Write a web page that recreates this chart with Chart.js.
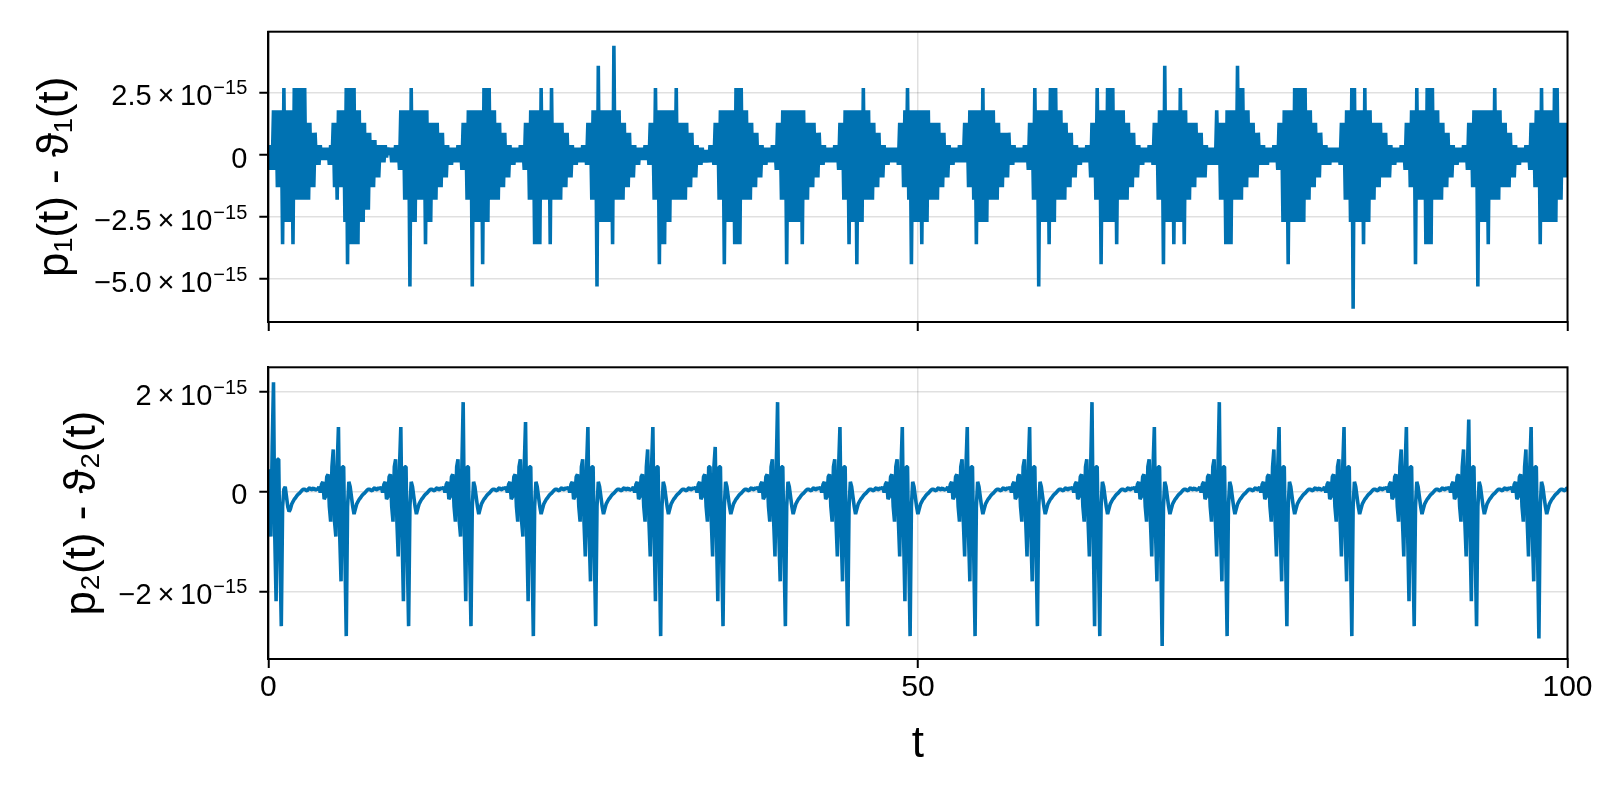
<!DOCTYPE html>
<html>
<head>
<meta charset="utf-8">
<script src="https://cdn.jsdelivr.net/npm/chart.js@4.4.1/dist/chart.umd.min.js"></script>
<style>
  html, body { margin: 0; padding: 0; background: #ffffff; }
  #wrap { position: relative; width: 1600px; height: 800px; background: #ffffff; }
  canvas { position: absolute; left: 0; }
</style>
</head>
<body>
<div id="wrap">
  <canvas id="c1" width="1600" height="340" style="top:0px;width:1600px;height:340px"></canvas>
  <canvas id="c2" width="1600" height="460" style="top:340px;width:1600px;height:460px"></canvas>
</div>
<script>
// ---------------- data ----------------
// time samples (step 0.1), shared by both panels
const tValues = [
  0,0.1,0.2,0.3,0.4,0.5,0.6,0.7,0.8,0.9,1,1.1,1.2,1.3,1.4,1.5,1.6,1.7,1.8,1.9,2,2.1,2.2,2.3,2.4,2.5,2.6,2.7,2.8,2.9,3,3.1,3.2,3.3,3.4,3.5,3.6,3.7,3.8,3.9,4,4.1,4.2,4.3,4.4,4.5,4.6,4.7,4.8,4.9,
  5,5.1,5.2,5.3,5.4,5.5,5.6,5.7,5.8,5.9,6,6.1,6.2,6.3,6.4,6.5,6.6,6.7,6.8,6.9,7,7.1,7.2,7.3,7.4,7.5,7.6,7.7,7.8,7.9,8,8.1,8.2,8.3,8.4,8.5,8.6,8.7,8.8,8.9,9,9.1,9.2,9.3,9.4,9.5,9.6,9.7,9.8,9.9,
  10,10.1,10.2,10.3,10.4,10.5,10.6,10.7,10.8,10.9,11,11.1,11.2,11.3,11.4,11.5,11.6,11.7,11.8,11.9,12,12.1,12.2,12.3,12.4,12.5,12.6,12.7,12.8,12.9,13,13.1,13.2,13.3,13.4,13.5,13.6,13.7,13.8,13.9,14,14.1,14.2,14.3,14.4,14.5,14.6,14.7,14.8,14.9,
  15,15.1,15.2,15.3,15.4,15.5,15.6,15.7,15.8,15.9,16,16.1,16.2,16.3,16.4,16.5,16.6,16.7,16.8,16.9,17,17.1,17.2,17.3,17.4,17.5,17.6,17.7,17.8,17.9,18,18.1,18.2,18.3,18.4,18.5,18.6,18.7,18.8,18.9,19,19.1,19.2,19.3,19.4,19.5,19.6,19.7,19.8,19.9,
  20,20.1,20.2,20.3,20.4,20.5,20.6,20.7,20.8,20.9,21,21.1,21.2,21.3,21.4,21.5,21.6,21.7,21.8,21.9,22,22.1,22.2,22.3,22.4,22.5,22.6,22.7,22.8,22.9,23,23.1,23.2,23.3,23.4,23.5,23.6,23.7,23.8,23.9,24,24.1,24.2,24.3,24.4,24.5,24.6,24.7,24.8,24.9,
  25,25.1,25.2,25.3,25.4,25.5,25.6,25.7,25.8,25.9,26,26.1,26.2,26.3,26.4,26.5,26.6,26.7,26.8,26.9,27,27.1,27.2,27.3,27.4,27.5,27.6,27.7,27.8,27.9,28,28.1,28.2,28.3,28.4,28.5,28.6,28.7,28.8,28.9,29,29.1,29.2,29.3,29.4,29.5,29.6,29.7,29.8,29.9,
  30,30.1,30.2,30.3,30.4,30.5,30.6,30.7,30.8,30.9,31,31.1,31.2,31.3,31.4,31.5,31.6,31.7,31.8,31.9,32,32.1,32.2,32.3,32.4,32.5,32.6,32.7,32.8,32.9,33,33.1,33.2,33.3,33.4,33.5,33.6,33.7,33.8,33.9,34,34.1,34.2,34.3,34.4,34.5,34.6,34.7,34.8,34.9,
  35,35.1,35.2,35.3,35.4,35.5,35.6,35.7,35.8,35.9,36,36.1,36.2,36.3,36.4,36.5,36.6,36.7,36.8,36.9,37,37.1,37.2,37.3,37.4,37.5,37.6,37.7,37.8,37.9,38,38.1,38.2,38.3,38.4,38.5,38.6,38.7,38.8,38.9,39,39.1,39.2,39.3,39.4,39.5,39.6,39.7,39.8,39.9,
  40,40.1,40.2,40.3,40.4,40.5,40.6,40.7,40.8,40.9,41,41.1,41.2,41.3,41.4,41.5,41.6,41.7,41.8,41.9,42,42.1,42.2,42.3,42.4,42.5,42.6,42.7,42.8,42.9,43,43.1,43.2,43.3,43.4,43.5,43.6,43.7,43.8,43.9,44,44.1,44.2,44.3,44.4,44.5,44.6,44.7,44.8,44.9,
  45,45.1,45.2,45.3,45.4,45.5,45.6,45.7,45.8,45.9,46,46.1,46.2,46.3,46.4,46.5,46.6,46.7,46.8,46.9,47,47.1,47.2,47.3,47.4,47.5,47.6,47.7,47.8,47.9,48,48.1,48.2,48.3,48.4,48.5,48.6,48.7,48.8,48.9,49,49.1,49.2,49.3,49.4,49.5,49.6,49.7,49.8,49.9,
  50,50.1,50.2,50.3,50.4,50.5,50.6,50.7,50.8,50.9,51,51.1,51.2,51.3,51.4,51.5,51.6,51.7,51.8,51.9,52,52.1,52.2,52.3,52.4,52.5,52.6,52.7,52.8,52.9,53,53.1,53.2,53.3,53.4,53.5,53.6,53.7,53.8,53.9,54,54.1,54.2,54.3,54.4,54.5,54.6,54.7,54.8,54.9,
  55,55.1,55.2,55.3,55.4,55.5,55.6,55.7,55.8,55.9,56,56.1,56.2,56.3,56.4,56.5,56.6,56.7,56.8,56.9,57,57.1,57.2,57.3,57.4,57.5,57.6,57.7,57.8,57.9,58,58.1,58.2,58.3,58.4,58.5,58.6,58.7,58.8,58.9,59,59.1,59.2,59.3,59.4,59.5,59.6,59.7,59.8,59.9,
  60,60.1,60.2,60.3,60.4,60.5,60.6,60.7,60.8,60.9,61,61.1,61.2,61.3,61.4,61.5,61.6,61.7,61.8,61.9,62,62.1,62.2,62.3,62.4,62.5,62.6,62.7,62.8,62.9,63,63.1,63.2,63.3,63.4,63.5,63.6,63.7,63.8,63.9,64,64.1,64.2,64.3,64.4,64.5,64.6,64.7,64.8,64.9,
  65,65.1,65.2,65.3,65.4,65.5,65.6,65.7,65.8,65.9,66,66.1,66.2,66.3,66.4,66.5,66.6,66.7,66.8,66.9,67,67.1,67.2,67.3,67.4,67.5,67.6,67.7,67.8,67.9,68,68.1,68.2,68.3,68.4,68.5,68.6,68.7,68.8,68.9,69,69.1,69.2,69.3,69.4,69.5,69.6,69.7,69.8,69.9,
  70,70.1,70.2,70.3,70.4,70.5,70.6,70.7,70.8,70.9,71,71.1,71.2,71.3,71.4,71.5,71.6,71.7,71.8,71.9,72,72.1,72.2,72.3,72.4,72.5,72.6,72.7,72.8,72.9,73,73.1,73.2,73.3,73.4,73.5,73.6,73.7,73.8,73.9,74,74.1,74.2,74.3,74.4,74.5,74.6,74.7,74.8,74.9,
  75,75.1,75.2,75.3,75.4,75.5,75.6,75.7,75.8,75.9,76,76.1,76.2,76.3,76.4,76.5,76.6,76.7,76.8,76.9,77,77.1,77.2,77.3,77.4,77.5,77.6,77.7,77.8,77.9,78,78.1,78.2,78.3,78.4,78.5,78.6,78.7,78.8,78.9,79,79.1,79.2,79.3,79.4,79.5,79.6,79.7,79.8,79.9,
  80,80.1,80.2,80.3,80.4,80.5,80.6,80.7,80.8,80.9,81,81.1,81.2,81.3,81.4,81.5,81.6,81.7,81.8,81.9,82,82.1,82.2,82.3,82.4,82.5,82.6,82.7,82.8,82.9,83,83.1,83.2,83.3,83.4,83.5,83.6,83.7,83.8,83.9,84,84.1,84.2,84.3,84.4,84.5,84.6,84.7,84.8,84.9,
  85,85.1,85.2,85.3,85.4,85.5,85.6,85.7,85.8,85.9,86,86.1,86.2,86.3,86.4,86.5,86.6,86.7,86.8,86.9,87,87.1,87.2,87.3,87.4,87.5,87.6,87.7,87.8,87.9,88,88.1,88.2,88.3,88.4,88.5,88.6,88.7,88.8,88.9,89,89.1,89.2,89.3,89.4,89.5,89.6,89.7,89.8,89.9,
  90,90.1,90.2,90.3,90.4,90.5,90.6,90.7,90.8,90.9,91,91.1,91.2,91.3,91.4,91.5,91.6,91.7,91.8,91.9,92,92.1,92.2,92.3,92.4,92.5,92.6,92.7,92.8,92.9,93,93.1,93.2,93.3,93.4,93.5,93.6,93.7,93.8,93.9,94,94.1,94.2,94.3,94.4,94.5,94.6,94.7,94.8,94.9,
  95,95.1,95.2,95.3,95.4,95.5,95.6,95.7,95.8,95.9,96,96.1,96.2,96.3,96.4,96.5,96.6,96.7,96.8,96.9,97,97.1,97.2,97.3,97.4,97.5,97.6,97.7,97.8,97.9,98,98.1,98.2,98.3,98.4,98.5,98.6,98.7,98.8,98.9,99,99.1,99.2,99.3,99.4,99.5,99.6,99.7,99.8,99.9,
  100
];

// p1(t) - theta1(t)
const p1Diff = [
  0.4e-15,-0.6e-15,0.4e-15,-0.6e-15,1.8e-15,-0.6e-15,1.8e-15,-1.3e-15,1.8e-15,-1.3e-15,1.8e-15,-3.6e-15,2.7e-15,-2.7e-15,1.8e-15,-2.7e-15,1.8e-15,-2.7e-15,1.8e-15,-3.6e-15,2.7e-15,-1.8e-15,2.7e-15,-1.8e-15,2.7e-15,-1.8e-15,2.7e-15,-1.8e-15,2.7e-15,-1.8e-15,1.3e-15,-1.8e-15,1.3e-15,-1.3e-15,0.9e-15,-1.3e-15,0.9e-15,-0.4e-15,0.4e-15,-0.4e-15,0.4e-15,-0.2e-15,0.3e-15,-0.2e-15,0.3e-15,-0.2e-15,0.3e-15,-0.4e-15,0.4e-15,-0.4e-15,
  1.3e-15,-1.3e-15,1.3e-15,-1.8e-15,1.8e-15,-1.3e-15,1.8e-15,-1.3e-15,1.8e-15,-2.7e-15,2.7e-15,-4.4e-15,2.7e-15,-3.6e-15,2.7e-15,-3.6e-15,2.7e-15,-3.6e-15,1.8e-15,-3.6e-15,1.8e-15,-2.7e-15,1.3e-15,-2.7e-15,1.3e-15,-2.2e-15,0.9e-15,-2.2e-15,0.9e-15,-1.3e-15,0.6e-15,-1.3e-15,0.6e-15,-0.9e-15,0.4e-15,-0.9e-15,0.4e-15,-0.3e-15,0.4e-15,-0.3e-15,0.4e-15,-0.1e-15,0.3e-15,0,0.3e-15,-0.3e-15,0.3e-15,-0.3e-15,0.4e-15,-0.3e-15,
  0.4e-15,-0.6e-15,1.8e-15,-0.6e-15,1.8e-15,-1.8e-15,1.8e-15,-1.8e-15,1.8e-15,-5.3e-15,2.7e-15,-2.7e-15,1.8e-15,-2.7e-15,1.8e-15,-1.8e-15,1.8e-15,-1.8e-15,1.8e-15,-1.8e-15,1.8e-15,-3.6e-15,1.8e-15,-2.7e-15,1.3e-15,-2.7e-15,1.3e-15,-1.8e-15,1.3e-15,-1.8e-15,1.3e-15,-1.3e-15,0.9e-15,-1.3e-15,0.9e-15,-0.9e-15,0.4e-15,-0.9e-15,0.4e-15,-0.4e-15,0.3e-15,-0.4e-15,0.3e-15,-0.3e-15,0.3e-15,-0.3e-15,0.4e-15,-0.3e-15,0.4e-15,-0.6e-15,
  1.3e-15,-0.6e-15,1.3e-15,-1.8e-15,1.8e-15,-1.8e-15,1.8e-15,-5.3e-15,1.8e-15,-2.7e-15,1.8e-15,-2.7e-15,1.8e-15,-2.7e-15,1.8e-15,-4.4e-15,2.7e-15,-2.7e-15,2.7e-15,-2.7e-15,2.7e-15,-1.8e-15,1.8e-15,-1.8e-15,1.8e-15,-1.8e-15,1.3e-15,-1.8e-15,1.3e-15,-1.3e-15,0.9e-15,-1.3e-15,0.9e-15,-0.9e-15,0.4e-15,-0.9e-15,0.4e-15,-0.4e-15,0.3e-15,-0.4e-15,0.3e-15,-0.3e-15,0.3e-15,-0.3e-15,0.4e-15,-0.3e-15,0.4e-15,-0.6e-15,1.3e-15,-0.6e-15,
  1.3e-15,-1.8e-15,1.8e-15,-1.8e-15,1.8e-15,-3.6e-15,1.8e-15,-3.6e-15,1.8e-15,-3.6e-15,2.7e-15,-1.8e-15,1.8e-15,-1.8e-15,1.8e-15,-1.8e-15,1.8e-15,-3.6e-15,2.7e-15,-1.8e-15,1.3e-15,-1.8e-15,1.3e-15,-1.8e-15,1.3e-15,-1.8e-15,1.3e-15,-1.3e-15,0.9e-15,-1.3e-15,0.9e-15,-0.9e-15,0.4e-15,-0.9e-15,0.4e-15,-0.4e-15,0.3e-15,-0.4e-15,0.3e-15,-0.3e-15,0.3e-15,-0.3e-15,0.4e-15,-0.3e-15,0.4e-15,-0.4e-15,1.3e-15,-0.4e-15,1.3e-15,-1.8e-15,
  1.8e-15,-1.8e-15,1.8e-15,-5.3e-15,3.6e-15,-2.7e-15,1.8e-15,-2.7e-15,1.8e-15,-2.7e-15,1.8e-15,-2.7e-15,1.8e-15,-2.7e-15,1.8e-15,-3.6e-15,4.4e-15,-1.8e-15,1.8e-15,-1.8e-15,1.8e-15,-1.8e-15,1.3e-15,-1.8e-15,1.3e-15,-1.3e-15,0.9e-15,-1.3e-15,0.9e-15,-0.9e-15,0.4e-15,-0.9e-15,0.4e-15,-0.4e-15,0.3e-15,-0.4e-15,0.3e-15,-0.2e-15,0.3e-15,-0.2e-15,0.4e-15,-0.2e-15,0.4e-15,-0.4e-15,1.3e-15,-0.4e-15,1.3e-15,-1.8e-15,2.7e-15,-1.8e-15,
  1.8e-15,-4.4e-15,1.8e-15,-3.6e-15,1.8e-15,-3.6e-15,1.8e-15,-2.7e-15,1.8e-15,-2.7e-15,1.8e-15,-1.8e-15,1.8e-15,-1.8e-15,2.7e-15,-1.8e-15,1.3e-15,-1.8e-15,1.3e-15,-1.8e-15,1.3e-15,-1.8e-15,1.3e-15,-1.3e-15,0.9e-15,-1.3e-15,0.9e-15,-0.9e-15,0.4e-15,-0.9e-15,0.4e-15,-0.4e-15,0.3e-15,-0.4e-15,0.3e-15,-0.3e-15,0.2e-15,-0.3e-15,0.2e-15,-0.3e-15,0.4e-15,-0.3e-15,0.4e-15,-0.4e-15,1.3e-15,-0.4e-15,1.3e-15,-1.8e-15,1.8e-15,-1.8e-15,
  1.8e-15,-4.4e-15,1.8e-15,-2.7e-15,1.8e-15,-2.7e-15,1.8e-15,-2.7e-15,1.8e-15,-3.6e-15,2.7e-15,-3.6e-15,2.7e-15,-3.6e-15,2.7e-15,-1.8e-15,1.8e-15,-1.8e-15,1.8e-15,-1.8e-15,1.3e-15,-1.8e-15,1.3e-15,-1.3e-15,0.9e-15,-1.3e-15,0.9e-15,-0.9e-15,0.4e-15,-0.9e-15,0.4e-15,-0.4e-15,0.3e-15,-0.4e-15,0.3e-15,-0.3e-15,0.3e-15,-0.3e-15,0.4e-15,-0.3e-15,0.4e-15,-0.6e-15,1.3e-15,-0.6e-15,1.3e-15,-1.8e-15,1.8e-15,-1.8e-15,1.8e-15,-4.4e-15,
  1.8e-15,-2.7e-15,1.8e-15,-2.7e-15,1.8e-15,-2.7e-15,1.8e-15,-2.7e-15,1.8e-15,-2.7e-15,1.8e-15,-3.6e-15,1.8e-15,-1.8e-15,1.3e-15,-1.8e-15,1.3e-15,-1.3e-15,1.3e-15,-1.3e-15,1.3e-15,-0.9e-15,0.9e-15,-0.9e-15,0.9e-15,-0.4e-15,0.4e-15,-0.4e-15,0.4e-15,-0.3e-15,0.3e-15,-0.3e-15,0.3e-15,-0.3e-15,0.3e-15,-0.3e-15,0.4e-15,-0.3e-15,0.4e-15,-0.6e-15,1.3e-15,-0.6e-15,1.3e-15,-1.8e-15,1.8e-15,-1.8e-15,1.8e-15,-3.6e-15,1.8e-15,-2.7e-15,
  1.8e-15,-2.7e-15,1.8e-15,-4.4e-15,1.8e-15,-2.7e-15,1.8e-15,-2.7e-15,2.7e-15,-1.8e-15,1.8e-15,-1.8e-15,1.8e-15,-1.8e-15,1.3e-15,-1.8e-15,1.3e-15,-1.3e-15,0.9e-15,-1.3e-15,0.9e-15,-0.9e-15,0.4e-15,-0.9e-15,0.4e-15,-0.4e-15,0.3e-15,-0.4e-15,0.3e-15,-0.3e-15,0.3e-15,-0.3e-15,0.3e-15,-0.3e-15,0.3e-15,-0.4e-15,1.3e-15,-0.4e-15,1.3e-15,-1.3e-15,1.8e-15,-1.3e-15,2.7e-15,-1.8e-15,1.8e-15,-4.4e-15,1.8e-15,-2.7e-15,1.8e-15,-2.7e-15,
  1.8e-15,-2.7e-15,1.8e-15,-3.6e-15,1.8e-15,-2.7e-15,1.8e-15,-2.7e-15,1.8e-15,-1.8e-15,1.3e-15,-1.8e-15,1.3e-15,-1.8e-15,1.3e-15,-1.8e-15,1.3e-15,-1.3e-15,0.9e-15,-1.3e-15,0.9e-15,-0.9e-15,0.4e-15,-0.9e-15,0.4e-15,-0.4e-15,0.3e-15,-0.4e-15,0.3e-15,-0.3e-15,0.3e-15,-0.3e-15,0.4e-15,-0.3e-15,0.4e-15,-0.3e-15,1.3e-15,-0.3e-15,1.3e-15,-1.3e-15,1.8e-15,-1.3e-15,1.8e-15,-1.8e-15,1.8e-15,-3.6e-15,1.8e-15,-2.7e-15,1.8e-15,-2.7e-15,
  2.7e-15,-2.7e-15,1.8e-15,-2.7e-15,1.8e-15,-1.8e-15,1.8e-15,-1.8e-15,1.8e-15,-1.8e-15,1.3e-15,-1.8e-15,1.3e-15,-1.3e-15,0.9e-15,-1.3e-15,0.9e-15,-0.9e-15,0.9e-15,-0.9e-15,0.9e-15,-0.4e-15,0.4e-15,-0.4e-15,0.4e-15,-0.3e-15,0.3e-15,-0.3e-15,0.3e-15,-0.3e-15,0.3e-15,-0.3e-15,0.4e-15,-0.3e-15,0.4e-15,-0.6e-15,1.3e-15,-0.6e-15,1.3e-15,-1.8e-15,2.7e-15,-1.8e-15,1.8e-15,-5.3e-15,1.8e-15,-2.7e-15,1.8e-15,-2.7e-15,1.8e-15,-2.7e-15,
  1.8e-15,-3.6e-15,2.7e-15,-2.7e-15,2.7e-15,-2.7e-15,2.7e-15,-1.8e-15,1.8e-15,-1.8e-15,1.8e-15,-1.8e-15,1.3e-15,-1.8e-15,1.3e-15,-1.3e-15,0.9e-15,-1.3e-15,0.9e-15,-0.9e-15,0.4e-15,-0.9e-15,0.4e-15,-0.4e-15,0.3e-15,-0.4e-15,0.3e-15,-0.3e-15,0.3e-15,-0.3e-15,0.4e-15,-0.3e-15,0.4e-15,-0.9e-15,1.3e-15,-0.9e-15,1.3e-15,-1.8e-15,2.7e-15,-1.8e-15,1.8e-15,-4.4e-15,1.8e-15,-2.7e-15,1.8e-15,-2.7e-15,2.7e-15,-2.7e-15,2.7e-15,-2.7e-15,
  2.7e-15,-2.7e-15,1.8e-15,-3.6e-15,1.8e-15,-1.8e-15,1.8e-15,-1.8e-15,1.8e-15,-1.8e-15,1.3e-15,-1.8e-15,1.3e-15,-1.3e-15,0.9e-15,-1.3e-15,0.9e-15,-0.9e-15,0.4e-15,-0.9e-15,0.4e-15,-0.4e-15,0.3e-15,-0.4e-15,0.3e-15,-0.3e-15,0.3e-15,-0.3e-15,0.4e-15,-0.3e-15,0.4e-15,-0.4e-15,1.3e-15,-0.4e-15,1.3e-15,-1.8e-15,1.8e-15,-1.8e-15,1.8e-15,-4.4e-15,3.6e-15,-2.7e-15,1.8e-15,-2.7e-15,1.8e-15,-2.7e-15,1.8e-15,-3.6e-15,1.8e-15,-2.7e-15,
  1.8e-15,-2.7e-15,2.7e-15,-2.7e-15,1.8e-15,-3.6e-15,1.8e-15,-1.8e-15,1.3e-15,-1.8e-15,1.3e-15,-1.3e-15,1.3e-15,-1.3e-15,1.3e-15,-0.9e-15,0.9e-15,-0.9e-15,0.9e-15,-0.9e-15,0.4e-15,-0.9e-15,0.4e-15,-0.4e-15,0.3e-15,-0.4e-15,0.3e-15,-0.4e-15,0.3e-15,-0.4e-15,1.8e-15,-0.4e-15,1.3e-15,-1.8e-15,1.3e-15,-1.8e-15,1.3e-15,-3.6e-15,1.8e-15,-3.6e-15,1.8e-15,-3.6e-15,1.8e-15,-1.8e-15,1.8e-15,-1.8e-15,3.6e-15,-1.8e-15,2.7e-15,-1.8e-15,
  2.7e-15,-1.3e-15,1.8e-15,-1.3e-15,1.8e-15,-0.9e-15,1.3e-15,-0.9e-15,1.3e-15,-0.9e-15,0.9e-15,-0.9e-15,0.9e-15,-0.4e-15,0.4e-15,-0.4e-15,0.4e-15,-0.4e-15,0.3e-15,-0.4e-15,0.3e-15,-0.3e-15,0.3e-15,-0.3e-15,0.4e-15,-0.3e-15,0.4e-15,-0.6e-15,1.3e-15,-0.6e-15,1.3e-15,-2.7e-15,1.8e-15,-2.7e-15,1.8e-15,-4.4e-15,1.8e-15,-2.7e-15,1.8e-15,-2.7e-15,2.7e-15,-2.7e-15,2.7e-15,-2.7e-15,2.7e-15,-2.7e-15,2.7e-15,-2.7e-15,2.7e-15,-1.8e-15,
  1.8e-15,-1.8e-15,1.8e-15,-1.3e-15,1.3e-15,-1.3e-15,1.3e-15,-0.9e-15,0.9e-15,-0.9e-15,0.9e-15,-0.4e-15,0.4e-15,-0.4e-15,0.4e-15,-0.4e-15,0.3e-15,-0.4e-15,0.3e-15,-0.3e-15,0.3e-15,-0.3e-15,0.3e-15,-0.3e-15,0.3e-15,-0.4e-15,1.3e-15,-0.4e-15,1.3e-15,-1.8e-15,1.8e-15,-1.8e-15,1.8e-15,-2.7e-15,2.7e-15,-6.2e-15,2.7e-15,-2.7e-15,1.8e-15,-2.7e-15,1.8e-15,-2.7e-15,1.8e-15,-3.6e-15,2.7e-15,-2.7e-15,1.8e-15,-2.7e-15,1.8e-15,-1.8e-15,
  1.3e-15,-1.8e-15,1.3e-15,-1.3e-15,1.3e-15,-1.3e-15,1.3e-15,-0.9e-15,0.9e-15,-0.9e-15,0.9e-15,-0.9e-15,0.4e-15,-0.9e-15,0.4e-15,-0.4e-15,0.3e-15,-0.4e-15,0.3e-15,-0.3e-15,0.3e-15,-0.3e-15,0.4e-15,-0.3e-15,0.4e-15,-0.6e-15,1.3e-15,-0.6e-15,1.3e-15,-1.3e-15,1.8e-15,-1.3e-15,1.8e-15,-4.4e-15,2.7e-15,-1.8e-15,1.8e-15,-1.8e-15,1.8e-15,-1.8e-15,1.8e-15,-3.6e-15,2.7e-15,-3.6e-15,2.7e-15,-3.6e-15,2.7e-15,-1.8e-15,1.8e-15,-1.8e-15,
  1.8e-15,-1.8e-15,1.3e-15,-1.8e-15,1.3e-15,-1.3e-15,0.9e-15,-1.3e-15,0.9e-15,-0.9e-15,0.4e-15,-0.9e-15,0.4e-15,-0.4e-15,0.3e-15,-0.4e-15,0.3e-15,-0.3e-15,0.3e-15,-0.3e-15,0.4e-15,-0.3e-15,0.4e-15,-0.6e-15,1.3e-15,-0.6e-15,1.3e-15,-1.3e-15,1.8e-15,-1.3e-15,1.8e-15,-5.3e-15,1.8e-15,-2.7e-15,1.8e-15,-2.7e-15,1.8e-15,-2.7e-15,1.8e-15,-3.6e-15,1.8e-15,-1.8e-15,1.8e-15,-1.8e-15,2.7e-15,-1.8e-15,1.8e-15,-1.8e-15,1.8e-15,-1.3e-15,
  1.3e-15,-1.3e-15,1.3e-15,-1.3e-15,0.9e-15,-1.3e-15,0.9e-15,-0.9e-15,0.4e-15,-0.9e-15,0.4e-15,-0.4e-15,0.3e-15,-0.4e-15,0.3e-15,-0.3e-15,0.3e-15,-0.3e-15,0.4e-15,-0.3e-15,0.4e-15,-0.6e-15,1.3e-15,-0.6e-15,1.3e-15,-1.3e-15,1.8e-15,-1.3e-15,1.8e-15,-3.6e-15,2.7e-15,-2.7e-15,1.8e-15,-2.7e-15,1.8e-15,-2.7e-15,1.8e-15,-2.7e-15,1.8e-15,-2.7e-15,2.7e-15,-2.7e-15,2.7e-15,-1.8e-15,1.3e-15,-1.8e-15,1.3e-15,-0.9e-15,1.3e-15,-0.9e-15,
  1.3e-15
];

// p2(t) - theta2(t), one line per oscillation cycle
const p2Diff = [
  0.45e-15,-0.5e-15,-0.9e-15,0.9e-15,2.2e-15,-0.9e-15,-2.2e-15,0.65e-15,0.65e-15,-1.3e-15,-2.7e-15,-0.3e-15,0.05e-15,0.1e-15,-0.1e-15,-0.3e-15,-0.4e-15,-0.35e-15,-0.25e-15,-0.2e-15,-0.15e-15,-0.12e-15,-0.08e-15,-0.05e-15,-0.03e-15,0,0.03e-15,0.05e-15,0.05e-15,0.03e-15,0.02e-15,0.06e-15,0.08e-15,0.04e-15,0.05e-15,0.08e-15,0.03e-15,0.05e-15,
  0.05e-15,0.1e-15,-0.02e-15,0.15e-15,0.2e-15,-0.15e-15,-0.1e-15,0.3e-15,0.35e-15,-0.3e-15,-0.6e-15,0.5e-15,0.85e-15,-0.6e-15,-0.9e-15,0.5e-15,1.3e-15,-0.9e-15,-1.8e-15,0.5e-15,0.5e-15,-1.3e-15,-2.9e-15,-0.3e-15,0.2e-15,0.1e-15,-0.1e-15,-0.3e-15,-0.45e-15,-0.35e-15,-0.25e-15,-0.2e-15,-0.15e-15,-0.12e-15,-0.08e-15,-0.05e-15,-0.03e-15,0,0.03e-15,0.05e-15,0.05e-15,0.03e-15,0.02e-15,0.06e-15,0.08e-15,0.04e-15,0.05e-15,0.08e-15,
  0.05e-15,0.1e-15,-0.02e-15,0.15e-15,0.2e-15,-0.15e-15,-0.1e-15,0.3e-15,0.35e-15,-0.3e-15,-0.6e-15,0.5e-15,0.65e-15,-0.6e-15,-1.3e-15,0.5e-15,1.3e-15,-0.9e-15,-2.2e-15,0.5e-15,0.5e-15,-1.3e-15,-2.7e-15,-0.3e-15,0.2e-15,0.1e-15,-0.1e-15,-0.3e-15,-0.45e-15,-0.35e-15,-0.25e-15,-0.2e-15,-0.15e-15,-0.12e-15,-0.08e-15,-0.05e-15,-0.03e-15,0,0.03e-15,0.05e-15,0.05e-15,0.03e-15,0.02e-15,0.06e-15,0.08e-15,0.04e-15,0.05e-15,0.08e-15,
  0.05e-15,0.1e-15,-0.02e-15,0.15e-15,0.2e-15,-0.15e-15,-0.1e-15,0.3e-15,0.35e-15,-0.3e-15,-0.6e-15,0.5e-15,0.65e-15,-0.6e-15,-0.9e-15,0.5e-15,1.8e-15,-0.9e-15,-2.2e-15,0.5e-15,0.5e-15,-1.3e-15,-2.7e-15,-0.3e-15,0.2e-15,0.1e-15,-0.1e-15,-0.3e-15,-0.45e-15,-0.35e-15,-0.25e-15,-0.2e-15,-0.15e-15,-0.12e-15,-0.08e-15,-0.05e-15,-0.03e-15,0,0.03e-15,0.05e-15,0.05e-15,0.03e-15,0.02e-15,0.06e-15,0.08e-15,0.04e-15,0.05e-15,0.08e-15,
  0.05e-15,0.1e-15,-0.02e-15,0.15e-15,0.2e-15,-0.15e-15,-0.1e-15,0.3e-15,0.35e-15,-0.3e-15,-0.6e-15,0.5e-15,0.65e-15,-0.6e-15,-0.9e-15,0.5e-15,1.4e-15,-0.9e-15,-2.2e-15,0.5e-15,0.5e-15,-1.3e-15,-2.9e-15,-0.3e-15,0.2e-15,0.1e-15,-0.1e-15,-0.3e-15,-0.45e-15,-0.35e-15,-0.25e-15,-0.2e-15,-0.15e-15,-0.12e-15,-0.08e-15,-0.05e-15,-0.03e-15,0,0.03e-15,0.05e-15,0.05e-15,0.03e-15,0.02e-15,0.06e-15,0.08e-15,0.04e-15,0.05e-15,0.08e-15,
  0.05e-15,0.1e-15,-0.02e-15,0.15e-15,0.2e-15,-0.15e-15,-0.1e-15,0.3e-15,0.35e-15,-0.3e-15,-0.6e-15,0.5e-15,0.65e-15,-0.6e-15,-1.3e-15,0.5e-15,1.3e-15,-0.9e-15,-1.8e-15,0.5e-15,0.5e-15,-1.3e-15,-2.7e-15,-0.3e-15,0.2e-15,0.1e-15,-0.1e-15,-0.3e-15,-0.45e-15,-0.35e-15,-0.25e-15,-0.2e-15,-0.15e-15,-0.12e-15,-0.08e-15,-0.05e-15,-0.03e-15,0,0.03e-15,0.05e-15,0.05e-15,0.03e-15,0.02e-15,0.06e-15,0.08e-15,0.04e-15,0.05e-15,0.08e-15,0.03e-15,0.05e-15,
  0.05e-15,0.1e-15,-0.02e-15,0.15e-15,0.2e-15,-0.15e-15,-0.1e-15,0.3e-15,0.35e-15,-0.3e-15,-0.6e-15,0.5e-15,0.85e-15,-0.6e-15,-1.3e-15,0.5e-15,1.3e-15,-0.9e-15,-2.2e-15,0.5e-15,0.5e-15,-1.3e-15,-2.9e-15,-0.3e-15,0.2e-15,0.1e-15,-0.1e-15,-0.3e-15,-0.45e-15,-0.35e-15,-0.25e-15,-0.2e-15,-0.15e-15,-0.12e-15,-0.08e-15,-0.05e-15,-0.03e-15,0,0.03e-15,0.05e-15,0.05e-15,0.03e-15,0.02e-15,0.06e-15,0.08e-15,0.04e-15,0.05e-15,0.08e-15,
  0.05e-15,0.1e-15,-0.02e-15,0.15e-15,0.2e-15,-0.15e-15,-0.1e-15,0.3e-15,0.35e-15,-0.3e-15,-0.6e-15,0.5e-15,0.5e-15,-0.6e-15,-1.3e-15,0.5e-15,0.9e-15,-0.9e-15,-2.2e-15,0.5e-15,0.5e-15,-1.3e-15,-2.7e-15,-0.3e-15,0.2e-15,0.1e-15,-0.1e-15,-0.3e-15,-0.45e-15,-0.35e-15,-0.25e-15,-0.2e-15,-0.15e-15,-0.12e-15,-0.08e-15,-0.05e-15,-0.03e-15,0,0.03e-15,0.05e-15,0.05e-15,0.03e-15,0.02e-15,0.06e-15,0.08e-15,0.04e-15,0.05e-15,0.08e-15,
  0.05e-15,0.1e-15,-0.02e-15,0.15e-15,0.2e-15,-0.15e-15,-0.1e-15,0.3e-15,0.35e-15,-0.3e-15,-0.6e-15,0.5e-15,0.65e-15,-0.6e-15,-1.3e-15,0.5e-15,1.8e-15,-0.9e-15,-1.8e-15,0.5e-15,0.5e-15,-1.3e-15,-2.7e-15,-0.3e-15,0.2e-15,0.1e-15,-0.1e-15,-0.3e-15,-0.45e-15,-0.35e-15,-0.25e-15,-0.2e-15,-0.15e-15,-0.12e-15,-0.08e-15,-0.05e-15,-0.03e-15,0,0.03e-15,0.05e-15,0.05e-15,0.03e-15,0.02e-15,0.06e-15,0.08e-15,0.04e-15,0.05e-15,0.08e-15,
  0.05e-15,0.1e-15,-0.02e-15,0.15e-15,0.2e-15,-0.15e-15,-0.1e-15,0.3e-15,0.35e-15,-0.3e-15,-0.6e-15,0.5e-15,0.65e-15,-0.6e-15,-1.3e-15,0.5e-15,1.3e-15,-0.9e-15,-1.8e-15,0.5e-15,0.5e-15,-1.3e-15,-2.7e-15,-0.3e-15,0.2e-15,0.1e-15,-0.1e-15,-0.3e-15,-0.45e-15,-0.35e-15,-0.25e-15,-0.2e-15,-0.15e-15,-0.12e-15,-0.08e-15,-0.05e-15,-0.03e-15,0,0.03e-15,0.05e-15,0.05e-15,0.03e-15,0.02e-15,0.06e-15,0.08e-15,0.04e-15,0.05e-15,0.08e-15,
  0.05e-15,0.1e-15,-0.02e-15,0.15e-15,0.2e-15,-0.15e-15,-0.1e-15,0.3e-15,0.35e-15,-0.3e-15,-0.6e-15,0.5e-15,0.65e-15,-0.6e-15,-1.3e-15,0.5e-15,1.3e-15,-0.9e-15,-2.2e-15,0.5e-15,0.5e-15,-1.3e-15,-2.9e-15,-0.3e-15,0.2e-15,0.1e-15,-0.1e-15,-0.3e-15,-0.45e-15,-0.35e-15,-0.25e-15,-0.2e-15,-0.15e-15,-0.12e-15,-0.08e-15,-0.05e-15,-0.03e-15,0,0.03e-15,0.05e-15,0.05e-15,0.03e-15,0.02e-15,0.06e-15,0.08e-15,0.04e-15,0.05e-15,0.08e-15,0.03e-15,0.05e-15,
  0.05e-15,0.1e-15,-0.02e-15,0.15e-15,0.2e-15,-0.15e-15,-0.1e-15,0.3e-15,0.35e-15,-0.3e-15,-0.6e-15,0.5e-15,0.65e-15,-0.6e-15,-1.3e-15,0.5e-15,1.3e-15,-0.9e-15,-1.8e-15,0.5e-15,0.5e-15,-1.3e-15,-2.9e-15,-0.3e-15,0.2e-15,0.1e-15,-0.1e-15,-0.3e-15,-0.45e-15,-0.35e-15,-0.25e-15,-0.2e-15,-0.15e-15,-0.12e-15,-0.08e-15,-0.05e-15,-0.03e-15,0,0.03e-15,0.05e-15,0.05e-15,0.03e-15,0.02e-15,0.06e-15,0.08e-15,0.04e-15,0.05e-15,0.08e-15,
  0.05e-15,0.1e-15,-0.02e-15,0.15e-15,0.2e-15,-0.15e-15,-0.1e-15,0.3e-15,0.35e-15,-0.3e-15,-0.6e-15,0.5e-15,0.65e-15,-0.6e-15,-1.3e-15,0.5e-15,1.3e-15,-0.9e-15,-1.8e-15,0.5e-15,0.5e-15,-1.3e-15,-2.7e-15,-0.3e-15,0.2e-15,0.1e-15,-0.1e-15,-0.3e-15,-0.45e-15,-0.35e-15,-0.25e-15,-0.2e-15,-0.15e-15,-0.12e-15,-0.08e-15,-0.05e-15,-0.03e-15,0,0.03e-15,0.05e-15,0.05e-15,0.03e-15,0.02e-15,0.06e-15,0.08e-15,0.04e-15,0.05e-15,0.08e-15,
  0.05e-15,0.1e-15,-0.02e-15,0.15e-15,0.2e-15,-0.15e-15,-0.1e-15,0.3e-15,0.35e-15,-0.3e-15,-0.6e-15,0.5e-15,0.65e-15,-0.6e-15,-1.3e-15,0.5e-15,1.8e-15,-0.9e-15,-2.7e-15,0.5e-15,0.5e-15,-1.3e-15,-2.9e-15,-0.3e-15,0.2e-15,0.1e-15,-0.1e-15,-0.3e-15,-0.45e-15,-0.35e-15,-0.25e-15,-0.2e-15,-0.15e-15,-0.12e-15,-0.08e-15,-0.05e-15,-0.03e-15,0,0.03e-15,0.05e-15,0.05e-15,0.03e-15,0.02e-15,0.06e-15,0.08e-15,0.04e-15,0.05e-15,0.08e-15,
  0.05e-15,0.1e-15,-0.02e-15,0.15e-15,0.2e-15,-0.15e-15,-0.1e-15,0.3e-15,0.35e-15,-0.3e-15,-0.6e-15,0.5e-15,0.65e-15,-0.6e-15,-1.3e-15,0.5e-15,1.3e-15,-0.9e-15,-1.8e-15,0.5e-15,0.5e-15,-1.3e-15,-3.1e-15,-0.3e-15,0.2e-15,0.1e-15,-0.1e-15,-0.3e-15,-0.45e-15,-0.35e-15,-0.25e-15,-0.2e-15,-0.15e-15,-0.12e-15,-0.08e-15,-0.05e-15,-0.03e-15,0,0.03e-15,0.05e-15,0.05e-15,0.03e-15,0.02e-15,0.06e-15,0.08e-15,0.04e-15,0.05e-15,0.08e-15,0.03e-15,0.05e-15,
  0.05e-15,0.1e-15,-0.02e-15,0.15e-15,0.2e-15,-0.15e-15,-0.1e-15,0.3e-15,0.35e-15,-0.3e-15,-0.6e-15,0.5e-15,0.65e-15,-0.6e-15,-1.3e-15,0.5e-15,1.8e-15,-0.9e-15,-1.8e-15,0.5e-15,0.5e-15,-1.3e-15,-2.9e-15,-0.3e-15,0.2e-15,0.1e-15,-0.1e-15,-0.3e-15,-0.45e-15,-0.35e-15,-0.25e-15,-0.2e-15,-0.15e-15,-0.12e-15,-0.08e-15,-0.05e-15,-0.03e-15,0,0.03e-15,0.05e-15,0.05e-15,0.03e-15,0.02e-15,0.06e-15,0.08e-15,0.04e-15,
  0.05e-15,0.1e-15,-0.02e-15,0.15e-15,0.2e-15,-0.15e-15,-0.1e-15,0.3e-15,0.35e-15,-0.3e-15,-0.6e-15,0.5e-15,0.85e-15,-0.6e-15,-1.3e-15,0.5e-15,1.3e-15,-0.9e-15,-1.8e-15,0.5e-15,0.5e-15,-1.3e-15,-2.7e-15,-0.3e-15,0.2e-15,0.1e-15,-0.1e-15,-0.3e-15,-0.45e-15,-0.35e-15,-0.25e-15,-0.2e-15,-0.15e-15,-0.12e-15,-0.08e-15,-0.05e-15,-0.03e-15,0,0.03e-15,0.05e-15,0.05e-15,0.03e-15,0.02e-15,0.06e-15,0.08e-15,0.04e-15,0.05e-15,0.08e-15,0.03e-15,0.05e-15,
  0.05e-15,0.1e-15,-0.02e-15,0.15e-15,0.2e-15,-0.15e-15,-0.1e-15,0.3e-15,0.35e-15,-0.3e-15,-0.6e-15,0.5e-15,0.65e-15,-0.6e-15,-1.3e-15,0.5e-15,1.3e-15,-0.9e-15,-1.8e-15,0.5e-15,0.5e-15,-1.3e-15,-2.9e-15,-0.3e-15,0.2e-15,0.1e-15,-0.1e-15,-0.3e-15,-0.45e-15,-0.35e-15,-0.25e-15,-0.2e-15,-0.15e-15,-0.12e-15,-0.08e-15,-0.05e-15,-0.03e-15,0,0.03e-15,0.05e-15,0.05e-15,0.03e-15,0.02e-15,0.06e-15,0.08e-15,0.04e-15,0.05e-15,0.08e-15,
  0.05e-15,0.1e-15,-0.02e-15,0.15e-15,0.2e-15,-0.15e-15,-0.1e-15,0.3e-15,0.35e-15,-0.3e-15,-0.6e-15,0.5e-15,0.85e-15,-0.6e-15,-1.3e-15,0.5e-15,1.3e-15,-0.9e-15,-2.2e-15,0.5e-15,0.5e-15,-1.3e-15,-2.7e-15,-0.3e-15,0.2e-15,0.1e-15,-0.1e-15,-0.3e-15,-0.45e-15,-0.35e-15,-0.25e-15,-0.2e-15,-0.15e-15,-0.12e-15,-0.08e-15,-0.05e-15,-0.03e-15,0,0.03e-15,0.05e-15,0.05e-15,0.03e-15,0.02e-15,0.06e-15,0.08e-15,0.04e-15,0.05e-15,0.08e-15,
  0.05e-15,0.1e-15,-0.02e-15,0.15e-15,0.2e-15,-0.15e-15,-0.1e-15,0.3e-15,0.35e-15,-0.3e-15,-0.6e-15,0.5e-15,0.85e-15,-0.6e-15,-1.3e-15,0.5e-15,1.45e-15,-0.9e-15,-2.2e-15,0.5e-15,0.5e-15,-1.3e-15,-2.7e-15,-0.3e-15,0.2e-15,0.1e-15,-0.1e-15,-0.3e-15,-0.45e-15,-0.35e-15,-0.25e-15,-0.2e-15,-0.15e-15,-0.12e-15,-0.08e-15,-0.05e-15,-0.03e-15,0,0.03e-15,0.05e-15,0.05e-15,0.03e-15,0.02e-15,0.06e-15,0.08e-15,0.04e-15,0.05e-15,0.08e-15,
  0.05e-15,0.1e-15,-0.02e-15,0.15e-15,0.2e-15,-0.15e-15,-0.1e-15,0.3e-15,0.35e-15,-0.3e-15,-0.6e-15,0.5e-15,0.85e-15,-0.6e-15,-1.3e-15,0.5e-15,1.3e-15,-0.9e-15,-1.8e-15,0.5e-15,0.5e-15,-1.3e-15,-2.95e-15,-0.3e-15,0.2e-15,0.1e-15,-0.1e-15,-0.3e-15,-0.45e-15,-0.35e-15,-0.25e-15,-0.2e-15,-0.15e-15,-0.12e-15,-0.08e-15,-0.05e-15,-0.03e-15,0,0.03e-15,0.05e-15,0.05e-15,0.03e-15,0.02e-15,0.06e-15,
  0.08e-15
];

const xTicks = [0, 50, 100];
const xTickLabels = ['0', '50', '100'];
const yTicksTop = [-5e-15, -2.5e-15, 0, 2.5e-15];
const yTickLabelsTop = ['\u22125.0\u00d710^\u221215', '\u22122.5\u00d710^\u221215', '0', '2.5\u00d710^\u221215'];
const yTicksBottom = [-2e-15, 0, 2e-15];
const yTickLabelsBottom = ['\u22122\u00d710^\u221215', '0', '2\u00d710^\u221215'];
const yLabelTop = 'p\u2081(t) - \u03d1\u2081(t)';
const yLabelBottom = 'p\u2082(t) - \u03d1\u2082(t)';
const xLabel = 't';

// ---------------- styling ----------------
const FONT = "'Liberation Sans', Arial, 'DejaVu Sans', sans-serif";
const LINE_COLOR = 'rgb(0,114,178)';
const GRID_COLOR = 'rgba(0,0,0,0.12)';
const TICK_FONT = 29;
const EXP_FONT = 20;
const LABEL_FONT = 44;

if (tValues.length !== p1Diff.length || tValues.length !== p2Diff.length) {
  console.warn('length mismatch', tValues.length, p1Diff.length, p2Diff.length);
}

const frameAndTicks = {
  id: 'frameAndTicks',
  afterDraw(chart, args, opts) {
    const ctx = chart.ctx;
    const a = chart.chartArea;
    ctx.save();
    ctx.strokeStyle = '#000';
    ctx.lineWidth = 2;
    ctx.strokeRect(a.left, a.top, a.right - a.left, a.bottom - a.top);
    // y tick labels with superscript exponent
    const ys = chart.scales.y;
    const values = opts.values, labels = opts.labels;
    const rightX = a.left - 21;
    values.forEach((v, i) => {
      const py = ys.getPixelForValue(v);
      const parts = labels[i].split('^');
      const base = parts[0].replace('\u00d7', '\u2009\u00d7\u2009');
      const expo = parts[1] || '';
      ctx.fillStyle = '#000';
      ctx.textAlign = 'left';
      ctx.textBaseline = 'alphabetic';
      ctx.font = EXP_FONT + 'px ' + FONT;
      const ew = expo ? ctx.measureText(expo).width : 0;
      ctx.font = TICK_FONT + 'px ' + FONT;
      const bw = ctx.measureText(base).width;
      const gap = expo ? 1 : 0;
      const startX = rightX - ew - gap - bw;
      ctx.fillText(base, startX, py + 12.5);
      if (expo) {
        ctx.font = EXP_FONT + 'px ' + FONT;
        ctx.fillText(expo, startX + bw + gap, py + 1.5);
      }
    });
    ctx.restore();
  }
};

function gridOpts() {
  return {
    color: GRID_COLOR,
    lineWidth: 1.5,
    drawTicks: true,
    tickLength: 9,
    tickWidth: 2,
    tickColor: '#000'
  };
}

function makeChart(canvasId, data, yMin, yMax, yTicks, yTickLabels, yTitle, yTitlePad, isBottom, pad, xAxisHeight) {
  const points = tValues.map((t, i) => ({ x: t, y: data[i] }));
  return new Chart(document.getElementById(canvasId), {
    type: 'line',
    data: {
      datasets: [{
        data: points,
        borderColor: LINE_COLOR,
        borderWidth: 3.6,
        pointRadius: 0,
        pointHoverRadius: 0,
        tension: 0,
        fill: false,
        borderJoinStyle: 'bevel',
        borderCapStyle: 'butt'
      }]
    },
    options: {
      responsive: false,
      animation: false,
      events: [],
      devicePixelRatio: 1,
      layout: { padding: pad },
      plugins: {
        legend: { display: false },
        tooltip: { enabled: false },
        frameAndTicks: { values: yTicks, labels: yTickLabels }
      },
      scales: {
        x: {
          type: 'linear',
          position: 'bottom',
          min: 0,
          max: 100,
          afterBuildTicks: (s) => { s.ticks = xTicks.map(v => ({ value: v })); },
          afterFit: (s) => { s.height = xAxisHeight; },
          grid: gridOpts(),
          border: { display: true, color: '#000', width: 2 },
          ticks: {
            display: isBottom,
            color: '#000',
            padding: 1.9,
            maxRotation: 0,
            autoSkip: false,
            font: { family: FONT, size: 30 },
            callback: (v, i) => xTickLabels[i]
          },
          title: {
            display: isBottom,
            text: xLabel,
            color: '#000',
            font: { family: FONT, size: LABEL_FONT },
            padding: { top: 0, bottom: 28.8 }
          }
        },
        y: {
          type: 'linear',
          position: 'left',
          min: yMin,
          max: yMax,
          afterBuildTicks: (s) => { s.ticks = yTicks.map(v => ({ value: v })); },
          afterFit: (s) => { s.width = 268.3; },
          grid: gridOpts(),
          border: { display: true, color: '#000', width: 2 },
          ticks: { display: false },
          title: {
            display: true,
            text: yTitle,
            color: '#000',
            font: { family: FONT, size: LABEL_FONT },
            padding: { top: yTitlePad, bottom: 0 }
          }
        }
      }
    },
    plugins: [frameAndTicks]
  });
}

makeChart('c1', p1Diff, -6.73e-15, 4.97e-15, yTicksTop, yTickLabelsTop, yLabelTop, 29.6, false,
  { left: 0, right: 32.5, top: 31.7, bottom: 0 }, 18);
makeChart('c2', p2Diff, -3.36e-15, 2.50e-15, yTicksBottom, yTickLabelsBottom, yLabelBottom, 56.6, true,
  { left: 0, right: 32.5, top: 27.3, bottom: 0 }, 141);
</script>
</body>
</html>
